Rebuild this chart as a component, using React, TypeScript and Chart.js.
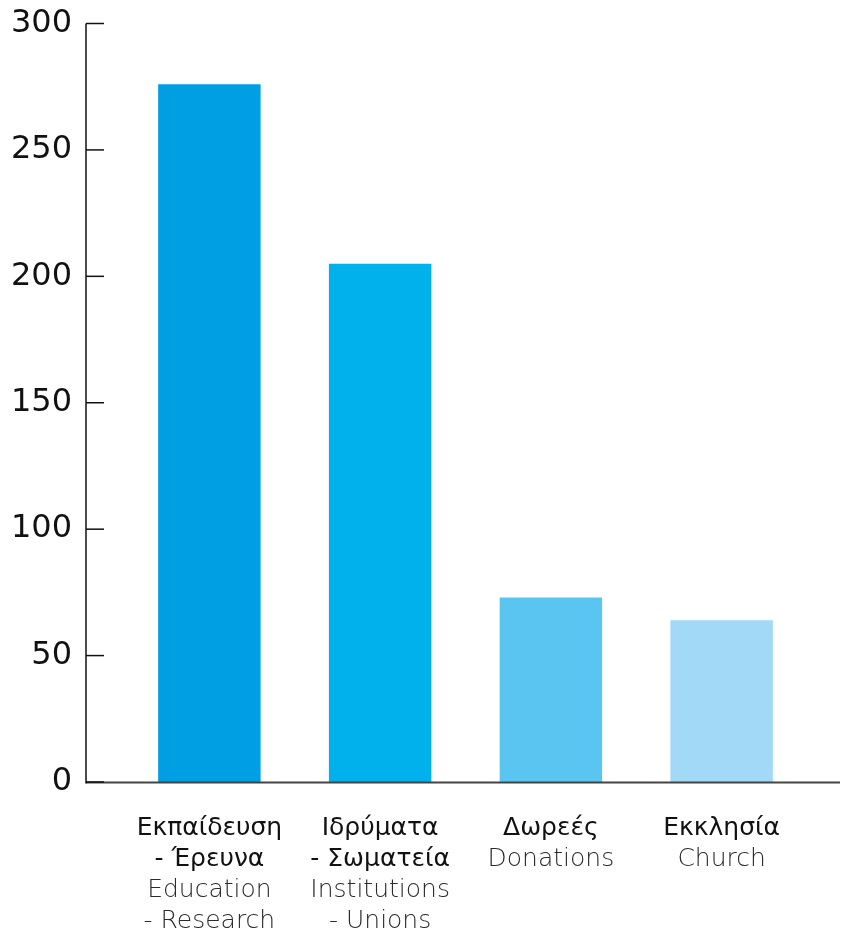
import React, { useEffect, useRef } from "react";
import { Chart, registerables } from "chart.js";

Chart.register(...registerables);

const categories = ["edu", "inst", "don", "church"];
const greekLabels: string[][] = [
  ["Εκπαίδευση", "- Έρευνα"],
  ["Ιδρύματα", "- Σωματεία"],
  ["Δωρεές"],
  ["Εκκλησία"],
];
const englishLabels: string[][] = [
  ["Education", "- Research"],
  ["Institutions", "- Unions"],
  ["Donations"],
  ["Church"],
];
const values = [276, 205, 73, 64];
const barColors = ["#009FE3", "#00B1EB", "#5BC5F2", "#A1D9F6"];
const yTicks = [0, 50, 100, 150, 200, 250, 300];

const FONT = "'DejaVu Sans', 'Noto Sans', sans-serif";

const axesPlugin = {
  id: "customAxes",
  afterDraw(chart: any) {
    const { ctx, scales } = chart;
    const y = scales.y;
    const x = scales.x;
    const axisX = 86;
    const y0 = y.getPixelForValue(0);
    const yTop = y.getPixelForValue(300);
    ctx.save();
    // x axis line
    ctx.strokeStyle = "#444444";
    ctx.lineWidth = 2;
    ctx.beginPath();
    ctx.moveTo(axisX, y0 + 0.5);
    ctx.lineTo(chart.width - 1, y0 + 0.5);
    ctx.stroke();
    // y axis line
    ctx.strokeStyle = "#111111";
    ctx.lineWidth = 1.5;
    ctx.beginPath();
    ctx.moveTo(axisX, yTop);
    ctx.lineTo(axisX, y0 + 1.5);
    ctx.stroke();
    // tick marks
    for (const t of yTicks) {
      const py = y.getPixelForValue(t);
      ctx.beginPath();
      ctx.moveTo(axisX, py);
      ctx.lineTo(axisX + 18, py);
      ctx.stroke();
    }
    // category labels
    ctx.textAlign = "center";
    ctx.textBaseline = "middle";
    const lineH = 31;
    const startY = y0 + 46;
    categories.forEach((_, i) => {
      const px = x.getPixelForTick(i);
      let line = 0;
      ctx.font = `400 25px ${FONT}`;
      ctx.fillStyle = "#111111";
      for (const g of greekLabels[i]) {
        ctx.fillText(g, px, startY + line * lineH);
        line++;
      }
      ctx.font = `300 25px ${FONT}`;
      ctx.fillStyle = "#2a2a2a";
      for (const e of englishLabels[i]) {
        ctx.fillText(e, px, startY + line * lineH);
        line++;
      }
    });
    ctx.restore();
  },
};

export default function App() {
  const ref = useRef<HTMLCanvasElement | null>(null);
  useEffect(() => {
    if (!ref.current) return;
    const chart = new Chart(ref.current, {
      type: "bar",
      data: {
        labels: categories,
        datasets: [
          {
            data: values,
            backgroundColor: barColors,
            borderWidth: 0,
            barPercentage: 0.6,
            categoryPercentage: 1,
          },
        ],
      },
      options: {
        animation: false,
        responsive: true,
        maintainAspectRatio: false,
        layout: { padding: { top: 23.5, right: 34, bottom: 0, left: 0 } },
        plugins: { legend: { display: false }, tooltip: { enabled: false } },
        scales: {
          x: {
            offset: true,
            grid: { display: false, drawTicks: false },
            border: { display: false },
            ticks: { display: false },
            afterFit: (s: any) => {
              s.height = 152;
            },
          },
          y: {
            min: 0,
            max: 300,
            grid: { display: false, drawTicks: false },
            border: { display: false },
            ticks: {
              stepSize: 50,
              padding: 52,
              color: "#111111",
              font: { family: FONT, size: 32 },
            },
            afterFit: (s: any) => {
              s.width = 124;
              s.paddingTop = 0;
              s.paddingBottom = 0;
            },
          },
        },
      },
      plugins: [axesPlugin],
    });
    return () => chart.destroy();
  }, []);
  return (
    <div style={{ position: "absolute", left: 0, top: 0, width: 841, height: 934, background: "#fff" }}>
      <canvas ref={ref} />
    </div>
  );
}
